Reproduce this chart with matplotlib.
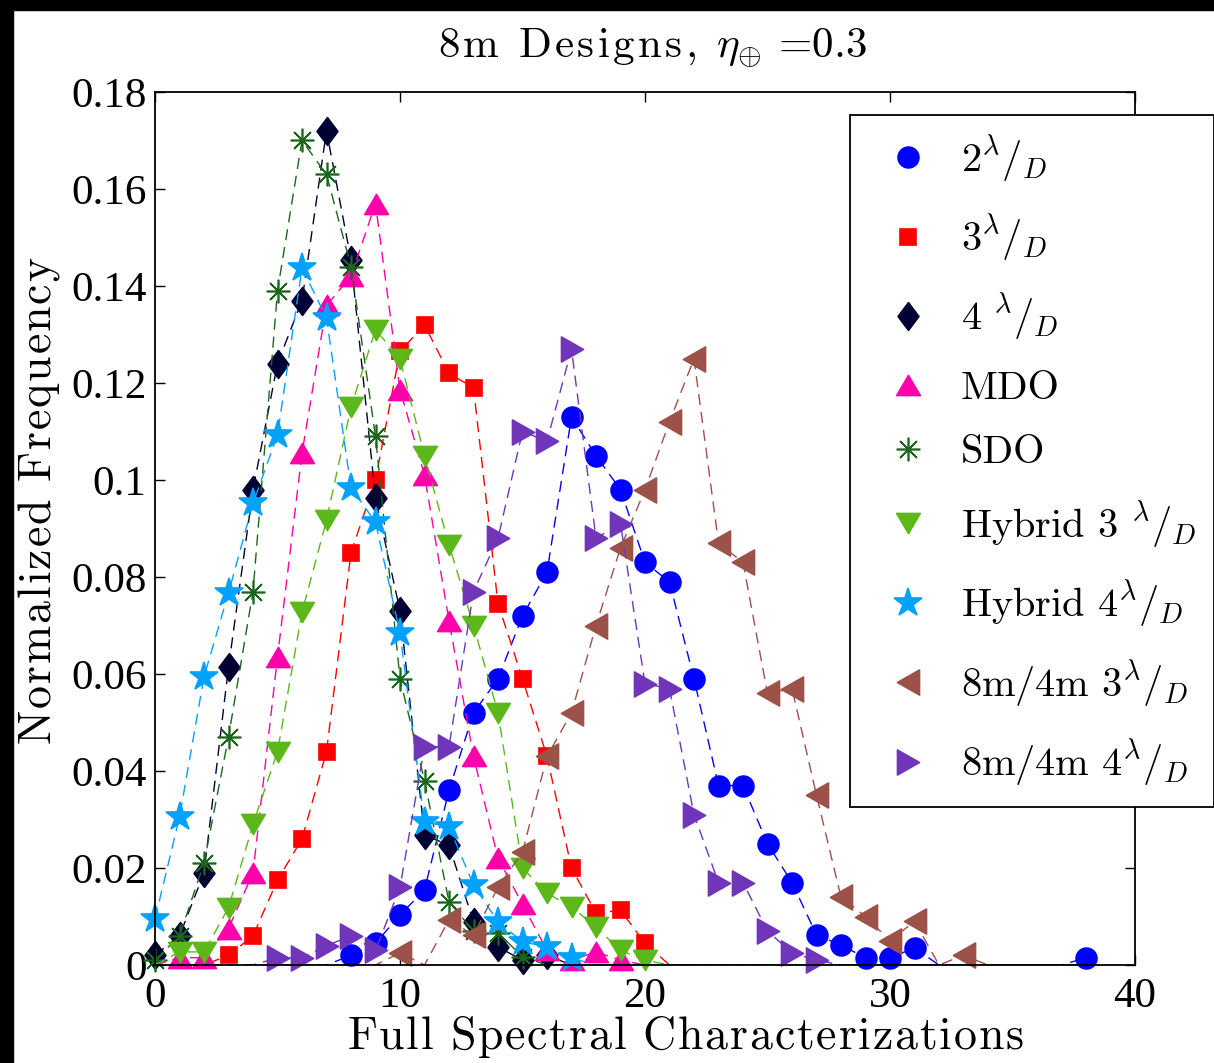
import numpy as np
import matplotlib
matplotlib.use("Agg")
import matplotlib.pyplot as plt
from matplotlib.path import Path
from matplotlib.patches import Rectangle

plt.rcParams['mathtext.fontset'] = 'cm'
plt.rcParams['axes.unicode_minus'] = False

# number of full spectral characterizations (bin centres)
x = list(range(0, 39))

# normalized frequency per design
f_2ld = [0, 0, 0, 0, 0, 0, 0, 0, 0.002, 0.0045, 0.0103, 0.0155, 0.036, 0.052, 0.059, 0.072,
         0.081, 0.113, 0.105, 0.098, 0.083, 0.079, 0.059, 0.037, 0.037, 0.025, 0.017, 0.0062,
         0.0041, 0.0015, 0.0015, 0.0035, 0, 0, 0, 0, 0, 0, 0.0015]
f_3ld = [0, 0, 0, 0.002, 0.006, 0.0175, 0.026, 0.044, 0.085, 0.100, 0.1265, 0.132, 0.122, 0.119,
         0.0745, 0.059, 0.043, 0.020, 0.0107, 0.0113, 0.0045, 0, 0, 0, 0, 0, 0, 0, 0, 0, 0, 0,
         0, 0, 0, 0, 0, 0, 0]
f_4ld = [0.002, 0.006, 0.019, 0.0614, 0.098, 0.124, 0.137, 0.172, 0.1454, 0.0963, 0.073, 0.0268,
         0.0247, 0.0089, 0.0037, 0.001, 0.002, 0, 0, 0, 0, 0, 0, 0, 0, 0, 0, 0, 0, 0, 0, 0, 0,
         0, 0, 0, 0, 0, 0]
f_mdo = [0, 0.0015, 0.0015, 0.0075, 0.019, 0.0635, 0.1055, 0.136, 0.142, 0.157, 0.1186, 0.101,
         0.071, 0.043, 0.022, 0.0125, 0.003, 0.001, 0.0027, 0.001, 0, 0, 0, 0, 0, 0, 0, 0, 0,
         0, 0, 0, 0, 0, 0, 0, 0, 0, 0]
f_sdo = [0.001, 0.006, 0.021, 0.047, 0.077, 0.139, 0.170, 0.163, 0.144, 0.109, 0.059, 0.038,
         0.013, 0.007, 0.0066, 0.0017, 0, 0, 0, 0, 0, 0, 0, 0, 0, 0, 0, 0, 0, 0, 0, 0, 0, 0,
         0, 0, 0, 0, 0]
f_hyb3 = [0, 0.0027, 0.0027, 0.0118, 0.029, 0.044, 0.0727, 0.0917, 0.115, 0.131, 0.125, 0.105,
          0.0866, 0.070, 0.052, 0.020, 0.0148, 0.012, 0.0078, 0.003, 0.001, 0, 0, 0, 0, 0, 0,
          0, 0, 0, 0, 0, 0, 0, 0, 0, 0, 0, 0]
f_hyb4 = [0.0095, 0.0305, 0.0594, 0.0767, 0.0952, 0.1093, 0.1437, 0.1334, 0.0984, 0.0913,
          0.0684, 0.0295, 0.0285, 0.0165, 0.0089, 0.0048, 0.0037, 0.0014, 0, 0, 0, 0, 0, 0, 0,
          0, 0, 0, 0, 0, 0, 0, 0, 0, 0, 0, 0, 0, 0]
f_84_3 = [0, 0, 0, 0, 0, 0, 0, 0, 0, 0, 0.0025, 0, 0.0093, 0.0062, 0.016, 0.0233, 0.043, 0.052,
          0.070, 0.086, 0.098, 0.112, 0.125, 0.087, 0.083, 0.056, 0.057, 0.035, 0.014, 0.010,
          0.005, 0.009, 0, 0.002, 0, 0, 0, 0, 0]
f_84_4 = [0, 0, 0, 0, 0, 0.0015, 0.0015, 0.004, 0.006, 0.003, 0.016, 0.045, 0.045, 0.077, 0.088,
          0.110, 0.108, 0.127, 0.088, 0.091, 0.058, 0.057, 0.031, 0.017, 0.017, 0.007, 0.0025,
          0.001, 0, 0, 0, 0, 0, 0, 0, 0, 0, 0, 0]

labels = [r'$2^{\lambda}/_{D}$', r'$3^{\lambda}/_{D}$', r'$4\ {}^{\lambda}/_{D}$', 'MDO', 'SDO',
          r'Hybrid 3 ${}^{\lambda}/_{D}$', r'Hybrid 4${}^{\lambda}/_{D}$',
          r'8m/4m 3${}^{\lambda}/_{D}$', r'8m/4m 4${}^{\lambda}/_{D}$']


def spaced(chars, em):
    # latex-style text with a bit of letter spacing, as mathtext
    parts = [r'\ ' if c == ' ' else (c if c.startswith('\\') else r'\mathrm{%s}' % c)
             for c in chars]
    return '$' + (r'\hspace{%g}' % em).join(parts) + '$'


# MATLAB-like marker shapes
diamond = Path([(0, 1), (0.75, 0), (0, -1), (-0.75, 0), (0, 1)], closed=True)
tri_up = Path([(0, 0.85), (-1, -0.85), (1, -0.85), (0, 0.85)], closed=True)
tri_dn = Path([(0, -0.85), (-1, 0.85), (1, 0.85), (0, -0.85)], closed=True)
tri_r = Path([(0.88, 0), (-0.88, 1), (-0.88, -1), (0.88, 0)], closed=True)
tri_l = Path([(-0.88, 0), (0.88, 1), (0.88, -1), (-0.88, 0)], closed=True)

styles = [
    (f_2ld, '#0000ff', 'o', 15),
    (f_3ld, '#ff0000', 's', 12),
    (f_4ld, '#000033', diamond, 20),
    (f_mdo, '#ff00aa', tri_up, 17),
    (f_sdo, '#1a661a', (8, 2, 0), 17),
    (f_hyb3, '#5cb81a', tri_dn, 17),
    (f_hyb4, '#00a2ff', '*', 21),
    (f_84_3, '#9c5248', tri_l, 18),
    (f_84_4, '#7035b8', tri_r, 18),
]

fig = plt.figure(figsize=(12.14, 10.63), dpi=100)
ax = fig.add_axes([155 / 1214, 98 / 1063, 980 / 1214, 873 / 1063])

for (vals, col, mk, ms), lab in zip(styles, labels):
    ax.plot(x, vals, linestyle='--', dashes=(8, 5), color=col, lw=1.0)
    # empty bins carry no marker
    ax.plot(x, np.ma.masked_equal(vals, 0), linestyle='None', marker=mk, markersize=ms,
            markerfacecolor=col, markeredgecolor=col, markeredgewidth=1.2, label=lab,
            clip_on=False)

ax.set_xlim(0, 40)
ax.set_ylim(0, 0.18)
ax.set_xticks([0, 10, 20, 30, 40])
yt = np.arange(0, 0.1801, 0.02)
ax.set_yticks(yt)
ax.set_yticklabels(['%g' % round(v, 2) for v in yt])
ax.tick_params(direction='in', length=7, width=1.0, top=True, right=True,
               labelsize=31, pad=6)
ax.tick_params(axis='x', pad=9)
for lbl in ax.get_xticklabels() + ax.get_yticklabels():
    lbl.set_family('Liberation Serif')
for sp in ax.spines.values():
    sp.set_linewidth(1.3)

ax.set_xlabel(spaced('Full Spectral Characterizations', 0.045), fontsize=33)
ax.xaxis.set_label_coords((685 - 155) / 980, (965 - 1014) / 873)
ax.set_ylabel(spaced('Normalized Frequency', 0.05), fontsize=33)
ax.yaxis.set_label_coords((62 - 155) / 980, (965 - 501) / 873)

title = spaced(list('8m Designs, ') + [r'\eta_{\oplus}'], 0.09) + ' =0.3'
fig.text(652 / 1214, 1 - 58 / 1063, title, family='cmr10', fontsize=31,
         ha='center', va='baseline')

leg = ax.legend(loc='upper left', bbox_to_anchor=(850 / 1214, 1 - 115 / 1063),
                bbox_transform=fig.transFigure, prop={'family': 'cmr10', 'size': 29},
                numpoints=1, handlelength=2.0, handletextpad=0.3, borderpad=0.45,
                labelspacing=0.69, borderaxespad=0, fancybox=False, framealpha=1)
leg.get_frame().set_edgecolor('black')
leg.get_frame().set_linewidth(1.3)

# black borders of the original screenshot
fig.add_artist(Rectangle((0, 1 - 10 / 1063), 1, 10 / 1063, transform=fig.transFigure,
                         color='black', zorder=10))
fig.add_artist(Rectangle((0, 0), 13 / 1214, 1, transform=fig.transFigure,
                         color='black', zorder=10))

fig.savefig('out.png', dpi=100)
